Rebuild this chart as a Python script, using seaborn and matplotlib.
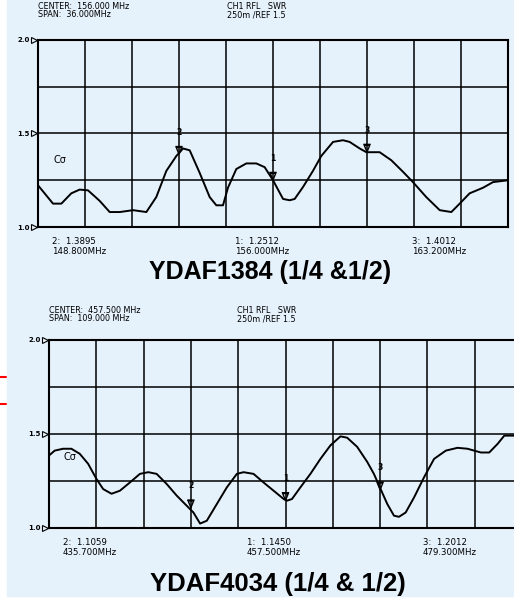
import matplotlib
matplotlib.use("Agg")
import numpy as np
import pandas as pd
import matplotlib.pyplot as plt
from matplotlib.path import Path
from matplotlib.lines import Line2D
import seaborn as sns

# --- values ---
top_freq = [138.00, 139.15, 139.79, 140.55, 141.19, 141.83, 142.72, 143.49, 144.26, 145.28,
            146.30, 147.06, 147.83, 148.60, 149.11, 149.62, 150.38, 151.15, 151.66, 152.17,
            152.55, 153.19, 153.96, 154.72, 155.36, 156.00, 156.77, 157.28, 157.66, 158.30,
            159.06, 159.70, 160.60, 161.36, 161.87, 162.64, 163.15, 164.17, 165.06, 165.96,
            166.72, 167.74, 168.77, 169.66, 170.30, 171.06, 172.09, 172.85, 174.00]
top_swr = [1.223, 1.125, 1.125, 1.180, 1.200, 1.196, 1.140, 1.080, 1.080, 1.090,
           1.080, 1.160, 1.300, 1.380, 1.420, 1.410, 1.290, 1.160, 1.116, 1.116,
           1.210, 1.310, 1.340, 1.340, 1.320, 1.250, 1.150, 1.143, 1.150, 1.214,
           1.300, 1.380, 1.455, 1.464, 1.455, 1.420, 1.400, 1.400, 1.357, 1.295,
           1.240, 1.160, 1.090, 1.080, 1.125, 1.180, 1.210, 1.240, 1.250]
top_marker_ids = ["2", "1", "3"]
top_marker_freq = [148.8, 156.0, 163.2]
top_marker_swr = [1.3895, 1.2512, 1.4012]

bot_freq = [403.00, 404.31, 406.24, 408.16, 410.09, 412.01, 413.94, 415.48, 417.41, 419.33,
            421.64, 423.95, 425.88, 427.80, 430.12, 432.43, 434.74, 436.28, 437.82, 439.36,
            441.67, 443.98, 446.29, 447.83, 450.14, 452.45, 454.77, 457.08, 457.85, 459.00,
            460.93, 463.24, 465.55, 467.86, 470.17, 471.71, 474.02, 476.33, 477.87, 479.42,
            480.96, 482.50, 483.65, 485.19, 487.12, 489.43, 491.74, 494.44, 497.13, 499.44,
            502.52, 504.45, 506.38, 507.92, 510.61, 512.00]
bot_swr = [1.384, 1.410, 1.420, 1.420, 1.393, 1.340, 1.259, 1.205, 1.180, 1.196,
           1.240, 1.286, 1.295, 1.286, 1.232, 1.170, 1.116, 1.080, 1.021, 1.036,
           1.125, 1.214, 1.286, 1.295, 1.286, 1.240, 1.196, 1.152, 1.143, 1.152,
           1.214, 1.286, 1.366, 1.438, 1.486, 1.479, 1.430, 1.350, 1.286, 1.205,
           1.125, 1.063, 1.057, 1.080, 1.160, 1.268, 1.366, 1.410, 1.425, 1.420,
           1.400, 1.400, 1.446, 1.490, 1.490, 1.490]
bot_marker_ids = ["2", "1", "3"]
bot_marker_freq = [435.7, 457.5, 479.3]
bot_marker_swr = [1.1059, 1.1450, 1.2012]

W, H = 514, 604
BG = "#e5f1fb"


def px(x, y):
    # pixel position (from top-left) -> figure fraction
    return x / W, 1 - y / H


sns.set_theme(style="white")
plt.rcParams["font.family"] = ["DejaVu Sans"]
plt.rcParams["text.color"] = "black"
plt.rcParams["ytick.color"] = "black"

fig = plt.figure(figsize=(W / 100, H / 100), dpi=100, facecolor="white")
fig.patches.append(plt.Rectangle(px(7, 596), (W - 7) / W, 596 / H,
                                 transform=fig.transFigure, color=BG, zorder=-10))

# marker symbol: triangle with its tip on the trace, flat bar on top
tri = Path([(-0.45, 1.1), (0.45, 1.1), (0.0, 0.0), (-0.45, 1.1),
            (-0.6, 1.25), (0.6, 1.25)],
           [Path.MOVETO, Path.LINETO, Path.LINETO, Path.CLOSEPOLY,
            Path.MOVETO, Path.LINETO])


def draw_panel(rect, freq, swr, center, span, mids, mfreq, mswr, cd_xy):
    ax = fig.add_axes(rect)
    ax.set_facecolor(BG)
    df = pd.DataFrame({"freq": freq, "swr": swr})
    sns.lineplot(data=df, x="freq", y="swr", ax=ax, color="black", lw=1.4, zorder=3)
    lo, hi = center - span / 2, center + span / 2
    ax.set_xlim(lo, hi)
    ax.set_ylim(1.0, 2.0)
    ax.set_xticks(np.linspace(lo, hi, 11))
    ax.set_yticks([1.0, 1.25, 1.5, 1.75, 2.0])
    ax.set_xticklabels([])
    ax.set_yticklabels(["1.0", "", "1.5", "", "2.0"], fontsize=5, fontweight="bold")
    ax.tick_params(length=0, pad=6)
    ax.grid(True, color="black", lw=1.1)
    ax.set_xlabel("")
    ax.set_ylabel("")
    for s in ax.spines.values():
        s.set_color("black")
        s.set_linewidth(1.5)
    # small pointer arrows at the y labels
    ax.plot([-0.008] * 3, [1.0, 1.5, 2.0], ls="none", marker=">", ms=4, mfc=BG,
            mec="black", mew=0.8, transform=ax.get_yaxis_transform(), clip_on=False)
    ax.scatter(mfreq, mswr, marker=tri, s=120, facecolors="none", edgecolors="black",
               linewidths=1.0, zorder=4)
    for mid, f, v in zip(mids, mfreq, mswr):
        ax.annotate(mid, (f, v), xytext=(0, 12.5), textcoords="offset points",
                    ha="center", va="bottom", fontsize=5.5, fontweight="bold")
    ax.text(cd_xy[0], cd_xy[1], "C\u03c3", fontsize=7, ha="center", va="center")
    return ax


draw_panel([38 / W, 1 - 227 / H, 470 / W, 187 / H], top_freq, top_swr, 156.0, 36.0,
           top_marker_ids, top_marker_freq, top_marker_swr, (139.7, 1.36))
draw_panel([49 / W, 1 - 527.5 / H, 473 / W, 187.5 / H], bot_freq, bot_swr, 457.5, 109.0,
           bot_marker_ids, bot_marker_freq, bot_marker_swr, (407.8, 1.375))

head = dict(fontsize=5.8, va="center", ha="left")
small = dict(fontsize=6.2, va="center", ha="left")

# headers
fig.text(*px(38, 6.5), "CENTER:  156.000 MHz", **head)
fig.text(*px(38, 14.5), "SPAN:  36.000MHz", **head)
fig.text(*px(227, 6.5), "CH1 RFL   SWR", **head)
fig.text(*px(227, 14.5), "250m /REF 1.5", **head)

fig.text(*px(49, 310.5), "CENTER:  457.500 MHz", **head)
fig.text(*px(49, 318.5), "SPAN:  109.000 MHz", **head)
fig.text(*px(237, 310.5), "CH1 RFL   SWR", **head)
fig.text(*px(237, 318.5), "250m /REF 1.5", **head)

# marker readouts
for x, a, b in [(52, "2:  1.3895", "148.800MHz"), (235, "1:  1.2512", "156.000MHz"),
                (412, "3:  1.4012", "163.200MHz")]:
    fig.text(*px(x, 242), a, **small)
    fig.text(*px(x, 251.5), b, **small)
for x, a, b in [(63, "2:  1.1059", "435.700MHz"), (247, "1:  1.1450", "457.500MHz"),
                (423, "3:  1.2012", "479.300MHz")]:
    fig.text(*px(x, 542.5), a, **small)
    fig.text(*px(x, 552.5), b, **small)

# titles
fig.text(*px(270, 272), "YDAF1384 (1/4 &1/2)", fontsize=18, fontweight="bold",
         family="Liberation Sans", ha="center", va="center")
fig.text(*px(278, 584), "YDAF4034 (1/4 & 1/2)", fontsize=18.5, fontweight="bold",
         family="Liberation Sans", ha="center", va="center")

# stray red ticks at the left edge
for y in (377, 404):
    fig.lines.append(Line2D([0, 6 / W], [1 - y / H] * 2, color="red", lw=1.5,
                            transform=fig.transFigure))

fig.savefig("out.png", dpi=100, facecolor="white")
